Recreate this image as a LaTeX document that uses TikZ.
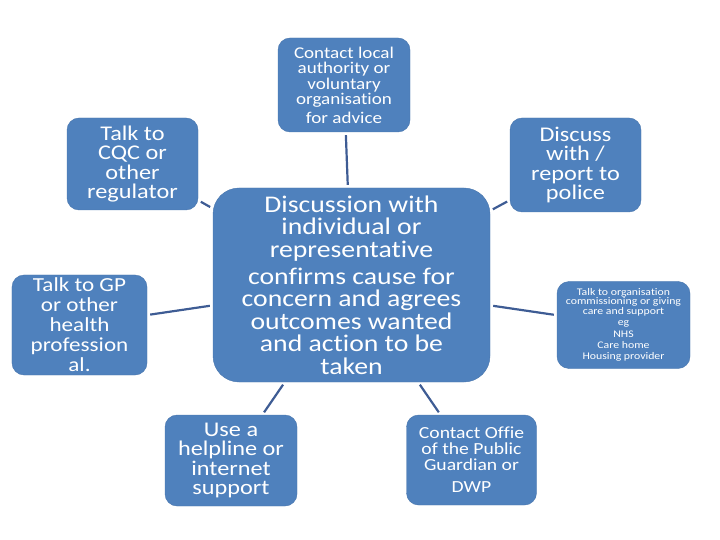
\documentclass[tikz,border=0pt]{standalone}
\usepackage{fontspec}
\setmainfont{Carlito}[FakeStretch=1.16, Ligatures=NoCommon]
\definecolor{BoxBlue}{RGB}{79, 129, 189}
\definecolor{EdgeBlue}{RGB}{72, 117, 172}
\definecolor{LinkBlue}{RGB}{62, 92, 148}

\begin{document}
\begin{tikzpicture}[x=1bp, y=-1bp,
                bubble/.style={draw=EdgeBlue, fill=BoxBlue, rounded corners=12bp, text=white,
                    align=center, inner sep=2bp, minimum width=132bp, minimum height=92bp},
                hub/.style={bubble, rounded corners=26bp, minimum width=277bp, minimum height=194bp},
                link/.style={draw=LinkBlue, line width=2.2bp, shorten <=3bp, shorten >=3bp}
            ]
                \useasboundingbox (0,0) rectangle (720,540);

                % Centre
                \node[hub, font=\fontsize{24}{22.5}\selectfont] (hub) at (351.5, 285)
                    {Discussion with\\individual or\\representative\\[5bp]
                     confirms cause for\\concern and agrees\\outcomes wanted\\and action to be\\taken};

                % Around the centre
                \node[bubble, minimum height=94bp, font=\fontsize{16.5}{15.5}\selectfont] (local) at (344, 85)
                    {Contact local\\authority or\\voluntary\\organisation\\[3bp]for advice};
                \node[bubble, minimum width=131bp, font=\fontsize{21}{19.5}\selectfont] (cqc) at (132.5, 164)
                    {Talk to\\CQC or\\other\\regulator};
                \node[bubble, minimum width=131bp, minimum height=94bp, font=\fontsize{21}{19.5}\selectfont] (police) at (575.5, 165)
                    {Discuss\\with /\\report to\\police};
                \node[bubble, minimum width=135bp, minimum height=100bp, font=\fontsize{20}{20}\selectfont] (gp) at (79.5, 325)
                    {Talk to GP\\or other\\health\\profession\\al.};
                \node[bubble, minimum width=133bp, minimum height=87bp, font=\fontsize{10.2}{8.8}\selectfont] (org) at (623.5, 325)
                    {Talk to organisation\\commissioning or giving\\care and support\\[3bp]
                     eg\\[2.5bp]NHS\\[2.5bp]Care home\\[2.5bp]Housing provider};
                \node[bubble, minimum height=91bp, font=\fontsize{21}{19.5}\selectfont] (help) at (231, 460.5)
                    {Use a\\helpline or\\internet\\support};
                \node[bubble, minimum width=130bp, minimum height=90bp, font=\fontsize{17}{16}\selectfont] (opg) at (471.5, 460)
                    {Contact Offie\\of the Public\\Guardian or\\[6bp]DWP};

                % Connectors
                \foreach \n in {local, cqc, police, gp, org, help, opg}
                    \draw[link] (hub) -- (\n);
            \end{tikzpicture}
\end{document}
